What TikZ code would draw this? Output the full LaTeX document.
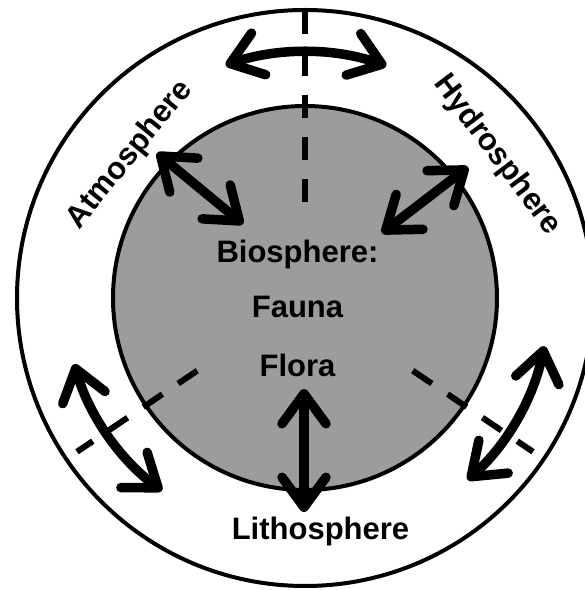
\documentclass[tikz,border=0pt]{standalone}
\usepackage{fontspec}
\setmainfont{Liberation Sans}
\usetikzlibrary{arrows.meta,calc}
\definecolor{biofill}{HTML}{9C9C9C}
\begin{document}
\begin{tikzpicture}[x=1pt,y=1pt,
  ring/.style={line width=4pt},
  divider/.style={line width=6pt, dash pattern=on 23pt off 19pt},
  exchange/.style={line width=9.5pt,
    {Straight Barb[length=30pt,width=44pt,round]}-{Straight Barb[length=30pt,width=44pt,round]}},
  sphere/.style={font=\fontsize{31}{37}\selectfont\bfseries, inner sep=0pt}]
\useasboundingbox (0,0) rectangle (585,590);
\clip (0,0) rectangle (585,590);

% common centre of the two rings
\coordinate (c) at (305,292);

% outer shell and the biosphere disc
\draw[ring] (c) circle[radius=288];
\draw[ring, fill=biofill] (c) circle[radius=192];

% dashed boundaries between the outer spheres
\coordinate (dt0) at ($(c)+(90:96)$);
\coordinate (dt1) at ($(c)+(90:288)$);
\coordinate (dl0) at ($(c)+(214:130)$);
\coordinate (dl1) at ($(c)+(214:275)$);
\coordinate (dr0) at ($(c)+(-34:130)$);
\coordinate (dr1) at ($(c)+(-34:275)$);
\draw[divider] (dt0) -- (dt1);
\draw[divider] (dl0) -- (dl1);
\draw[divider] (dr0) -- (dr1);

% labels
\node[sphere, anchor=base] (bio)   at (297.5,327) {Biosphere:};
\node[sphere, anchor=base] (fauna) at (297.5,272) {Fauna};
\node[sphere, anchor=base] (flora) at (297.5,213) {Flora};
\node[sphere, anchor=base] (litho) at (320.5,50)  {Lithosphere};
\node[sphere, rotate=51]   (atmo)  at (130,435)   {Atmosphere};
\node[sphere, rotate=-53]  (hydro) at (497,435)   {Hydrosphere};

% exchanges between the biosphere and the outer spheres
\coordinate (aOut) at (157,437);
\coordinate (aIn)  at (243,366);
\coordinate (hIn)  at (382,357);
\coordinate (hOut) at (468,423);
\coordinate (lIn)  at (304,201);
\coordinate (lOut) at (304,78);
\draw[exchange] (aOut) -- (aIn);
\draw[exchange] (hIn) -- (hOut);
\draw[exchange] (lIn) -- (lOut);

% exchanges between neighbouring outer spheres
\coordinate (tA) at ($(c)+(108.8:246)$);
\coordinate (lA) at ($(c)+(196:240)$);
\coordinate (rA) at ($(c)+(-11.4:244)$);
\draw[exchange] (tA) arc[start angle=108.8, end angle=70.7, radius=246];
\draw[exchange] (lA) arc[start angle=196, end angle=233.4, radius=240];
\draw[exchange] (rA) arc[start angle=-11.4, end angle=-48.2, radius=244];
\end{tikzpicture}
\end{document}
